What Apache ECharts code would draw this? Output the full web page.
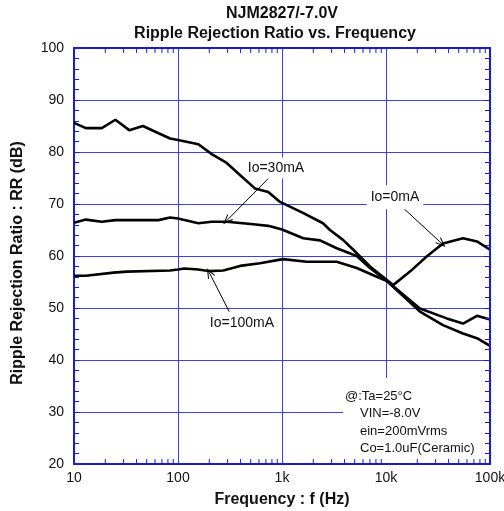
<!DOCTYPE html>
<html><head><meta charset="utf-8">
<script src="https://cdn.jsdelivr.net/npm/echarts@6/dist/echarts.min.js"></script>
<style>html,body{margin:0;padding:0;background:#fff}#c{width:504px;height:511px}</style>
</head><body><div id="c"></div>
<script>
// ---- data ----
const freq0mA = [10,13,18.5,25,34,46,65,84,100,157,211,294,409,549,738,957,1590,2480,2890,3860,4850,7020,10200,11700,17000,24600,35300,55000,75000,100000];
const rr0mA   = [85.6,84.6,84.6,86.2,84.2,85.0,83.6,82.6,82.3,81.5,79.6,77.9,75.3,73.0,72.3,70.4,68.3,66.3,65.0,63.1,61.2,58.0,55.4,54.4,57.0,59.9,62.4,63.4,62.8,61.2];

const freq30mA = [10,13,18.5,25,65,84,100,157,211,294,530,738,1000,1600,2320,3360,5230,7020,10200,21200,38400,55000,75000,100000];
const rr30mA   = [66.4,67.0,66.6,66.9,66.9,67.4,67.2,66.3,66.6,66.6,66.1,65.8,65.1,63.4,63.0,61.5,60.0,57.7,55.2,49.9,48.0,47.0,48.5,47.8];

const freq100mA = [10,13,24,32,84,100,115,157,195,273,395,614,1020,1730,3360,5230,7550,10200,21200,35300,55000,75000,100000];
const rr100mA   = [56.2,56.2,56.8,57.0,57.2,57.4,57.6,57.4,57.1,57.2,58.1,58.6,59.4,58.9,58.9,57.7,56.3,55.2,49.3,46.7,45.1,44.2,42.7];

const xTickLabels = {10:'10',100:'100',1000:'1k',10000:'10k',100000:'100k'};
const xDecades = [10,100,1000,10000];
const yMin = 20, yMax = 100, yStep = 10;

// annotation anchors (data coordinates)
const ann30 = {text:'Io=30mA', label:[875,76.9], from:[738,74.9], to:[294,66.8]};
const ann0 = {text:'Io=0mA', label:[12200,71.3], from:[13650,69.8], to:[34350,62.4]};
const ann100 = {text:'Io=100mA', label:[412,47.1], from:[311,49.3], to:[200,56.8]};

const noteLines = ['@:Ta=25°C','VIN=-8.0V','ein=200mVrms','Co=1.0uF(Ceramic)'];

// ---- styles ----
const AX = '#1c1ccc', GRID = '#4040dd', FONT = '"Liberation Sans", Arial, sans-serif';
const xMinorTicks = [];
xDecades.forEach(d => { for (let m = 2; m <= 9; m++) xMinorTicks.push(d * m); });

const zip = (a, b) => a.map((v, i) => [v, b[i]]);
const arrowSym = 'path://M5,0 L10,10 L8.6,10 L5,2.6 L1.4,10 L0,10 Z';

function annotate(a, pad) {
  return {
    markLine: {
      silent: true, animation: false,
      symbol: ['none', arrowSym], symbolSize: [8, 10],
      label: {show: false},
      lineStyle: {color: '#000', width: 1, type: 'solid'},
      data: [[{coord: a.from}, {coord: a.to}]]
    },
    markPoint: {
      silent: true, animation: false,
      symbol: 'circle', symbolSize: 0,
      label: {show: true, position: 'inside', formatter: a.text, color: '#111', fontSize: 14,
              fontFamily: FONT, backgroundColor: '#fff', padding: pad},
      data: [{coord: a.label}]
    }
  };
}

function lineSeries(name, data, a, pad) {
  return Object.assign({
    name, type: 'line', data, symbol: 'none', smooth: false, animation: false,
    lineStyle: {color: '#000', width: 2.6}, z: 3
  }, annotate(a, pad));
}

const chart = echarts.init(document.getElementById('c'), null, {renderer: 'canvas'});
chart.setOption({
  backgroundColor: '#fff',
  textStyle: {fontFamily: FONT},
  animation: false,
  grid: {left: 74, right: 14, top: 48, bottom: 47, outerBoundsMode: 'none', containLabel: false},
  xAxis: [
    {type: 'log', logBase: 10, min: 10, max: 100000, position: 'bottom', z: 0,
     name: 'Frequency : f (Hz)', nameLocation: 'middle', nameGap: 28,
     nameTextStyle: {fontSize: 16, fontWeight: 'bold', color: '#111', fontFamily: FONT},
     axisLine: {show: false}, axisTick: {show: false},
     axisLabel: {fontSize: 14, color: '#111', margin: 7, formatter: v => xTickLabels[Math.round(v)] || ''},
     splitLine: {show: true, lineStyle: {color: GRID, width: 1}}},
    {type: 'log', logBase: 10, min: 10, max: 100000, position: 'bottom', z: 5,
     axisLine: {show: true, lineStyle: {color: AX, width: 2}}, axisTick: {show: false},
     axisLabel: {show: false}, splitLine: {show: false}},
    {type: 'log', logBase: 10, min: 10, max: 100000, position: 'top', z: 5,
     axisLine: {show: true, lineStyle: {color: AX, width: 2}}, axisTick: {show: false},
     axisLabel: {show: false}, splitLine: {show: false}}
  ],
  yAxis: [
    {type: 'value', min: yMin, max: yMax, interval: yStep, position: 'left', z: 0,
     name: 'Ripple Rejection Ratio : RR (dB)', nameLocation: 'middle', nameGap: 48,
     nameTextStyle: {fontSize: 16, fontWeight: 'bold', color: '#111', fontFamily: FONT, padding: [0, 14, 0, 0]},
     axisLine: {show: true, lineStyle: {color: AX, width: 2}},
     axisTick: {show: true, inside: true, length: 6, lineStyle: {color: AX}},
     minorTick: {show: true, splitNumber: 5, length: 5, lineStyle: {color: AX, width: 1}},
     axisLabel: {fontSize: 14, color: '#111', margin: 10},
     splitLine: {show: true, lineStyle: {color: GRID, width: 1}}},
    {type: 'value', min: yMin, max: yMax, interval: yStep, position: 'right', z: 5,
     axisLine: {show: true, lineStyle: {color: AX, width: 2}},
     axisTick: {show: true, inside: true, length: 6, lineStyle: {color: AX}},
     minorTick: {show: true, splitNumber: 5, length: 5, lineStyle: {color: AX, width: 1}},
     axisLabel: {show: false}, splitLine: {show: false}}
  ],
  graphic: [
    {type: 'text', z: 10, x: 282, y: 14, style: {text: 'NJM2827/-7.0V', font: 'bold 16px ' + FONT, fill: '#111', align: 'center', verticalAlign: 'middle'}},
    {type: 'text', z: 10, x: 275, y: 34, style: {text: 'Ripple Rejection Ratio vs. Frequency', font: 'bold 16px ' + FONT, fill: '#111', align: 'center', verticalAlign: 'middle'}},
    {type: 'rect', z: 1, shape: {x: 343, y: 378, width: 146, height: 85}, style: {fill: '#fff'}},
    ...noteLines.map((t, i) => ({type: 'text', z: 10, x: i === 0 ? 345 : 360, y: 396 + i * 17.5,
      style: {text: t, font: '13px ' + FONT, fill: '#111', align: 'left', verticalAlign: 'middle'}}))
  ],
  series: [
    lineSeries('Io=0mA', zip(freq0mA, rr0mA), ann0, [3, 4, 7, 4]),
    lineSeries('Io=30mA', zip(freq30mA, rr30mA), ann30, [4, 2, 3, 2]),
    lineSeries('Io=100mA', zip(freq100mA, rr100mA), ann100, [2, 2, 2, 2]),
    {type: 'custom', name: 'xminor', silent: true, animation: false, clip: false, z: 6,
     data: xMinorTicks.map(f => [f, yMin]), encode: {x: 0, y: 1},
     renderItem(params, api) {
       const f = api.value(0);
       const b = api.coord([f, yMin]), t = api.coord([f, yMax]);
       return {type: 'group', children: [
         {type: 'line', shape: {x1: b[0], y1: b[1], x2: b[0], y2: b[1] - 5}, style: {stroke: AX, lineWidth: 1}},
         {type: 'line', shape: {x1: t[0], y1: t[1], x2: t[0], y2: t[1] + 5}, style: {stroke: AX, lineWidth: 1}}
       ]};
     }}
  ]
});
</script></body></html>
